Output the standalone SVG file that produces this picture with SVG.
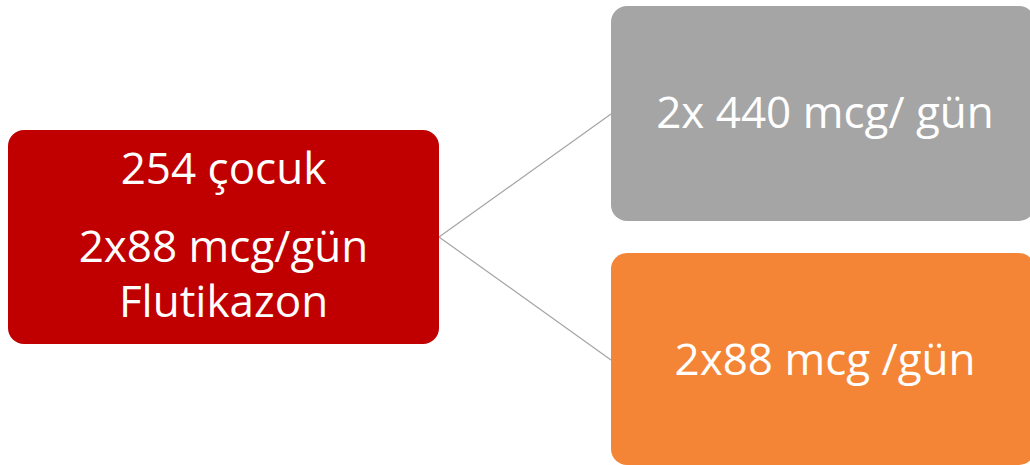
<svg xmlns="http://www.w3.org/2000/svg" width="1030" height="465" viewBox="0 0 1030 465">
  <style>
    .box-text { font-family: "Open Sans", "Liberation Sans", sans-serif; font-size: 44px; fill: #FFFFFF; text-anchor: middle; }
    .link { stroke: #A5A5A5; stroke-width: 1.2; fill: none; }
  </style>
  <rect width="1030" height="465" fill="#FFFFFF"/>

  <!-- connectors -->
  <g id="connectors">
    <line class="link" x1="439" y1="237" x2="611" y2="114"/>
    <line class="link" x1="439" y1="237" x2="611" y2="360"/>
  </g>

  <!-- source node -->
  <g id="node-root">
    <rect x="8" y="130" width="431" height="214" rx="16" ry="16" fill="#C00000"/>
    <text class="box-text" x="223.5" y="184">254 çocuk</text>
    <text class="box-text" x="223.5" y="262">2x88 mcg/gün</text>
    <text class="box-text" x="223.5" y="317">Flutikazon</text>
  </g>

  <!-- high dose arm -->
  <g id="node-high">
    <rect x="611" y="6" width="424" height="215" rx="16" ry="16" fill="#A5A5A5"/>
    <text class="box-text" x="825" y="128">2x 440 mcg/ gün</text>
  </g>

  <!-- standard dose arm -->
  <g id="node-standard">
    <rect x="611" y="253" width="424" height="212" rx="16" ry="16" fill="#F58536"/>
    <text class="box-text" x="825" y="375">2x88 mcg /gün</text>
  </g>
</svg>
